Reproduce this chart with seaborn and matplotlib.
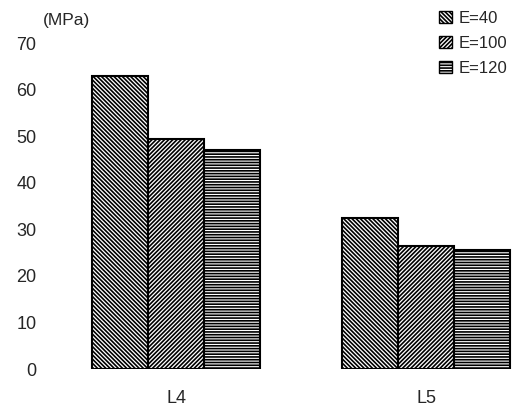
import matplotlib

matplotlib.use("Agg")

import matplotlib.pyplot as plt
import pandas as pd
import seaborn as sns


SITES = ["L4", "L5"]
E_LEVELS = ["E=40", "E=100", "E=120"]
STRENGTH_L4 = [63.0, 49.4, 47.0]
STRENGTH_L5 = [32.4, 26.4, 25.5]
HATCHES = ["\\" * 8, "/" * 8, "-" * 6]

rows = []
for site, values in zip(SITES, [STRENGTH_L4, STRENGTH_L5]):
    for level, value in zip(E_LEVELS, values):
        rows.append({"site": site, "E": level, "MPa": value})
df = pd.DataFrame(rows)

sns.set_style("white")
plt.rcParams["font.family"] = ["Liberation Sans", "DejaVu Sans"]
plt.rcParams["hatch.linewidth"] = 1.2
plt.rcParams["hatch.color"] = "black"

fig = plt.figure(figsize=(5.16, 4.08), dpi=100)
ax = fig.add_axes([60 / 516, 39 / 408, 456 / 516, 326 / 408])

sns.barplot(
    data=df,
    x="site",
    y="MPa",
    hue="E",
    order=SITES,
    hue_order=E_LEVELS,
    palette=["white"] * 3,
    width=0.672,
    edgecolor="black",
    linewidth=1.5,
    saturation=1,
    legend=False,
    ax=ax,
)

for container, hatch in zip(ax.containers, HATCHES):
    for bar in container:
        bar.set_hatch(hatch)
        bar.set_edgecolor("black")

ax.set_xlim(-0.464, 1.36)
ax.set_ylim(0, 70)
ax.set_yticks(range(0, 71, 10))
ax.set_xlabel("")
ax.set_ylabel("")
sns.despine(ax=ax, left=True, bottom=True)
ax.tick_params(axis="y", length=0, pad=17, labelsize=13)
ax.tick_params(axis="x", length=0, pad=15, labelsize=13)

fig.text(43 / 516, 1 - 20 / 408, "(MPa)", va="center", ha="left", fontsize=12.5)

leg = ax.legend(
    ax.containers,
    E_LEVELS,
    loc="upper left",
    bbox_to_anchor=(439 / 516, 1 - 11 / 408),
    bbox_transform=fig.transFigure,
    frameon=False,
    fontsize=12,
    handlelength=0.75,
    handleheight=0.75,
    handletextpad=0.45,
    labelspacing=0.6,
    borderaxespad=0,
    borderpad=0,
)
for handle in leg.legend_handles:
    handle.set_linewidth(1.0)

fig.savefig("out.png", dpi=100)
